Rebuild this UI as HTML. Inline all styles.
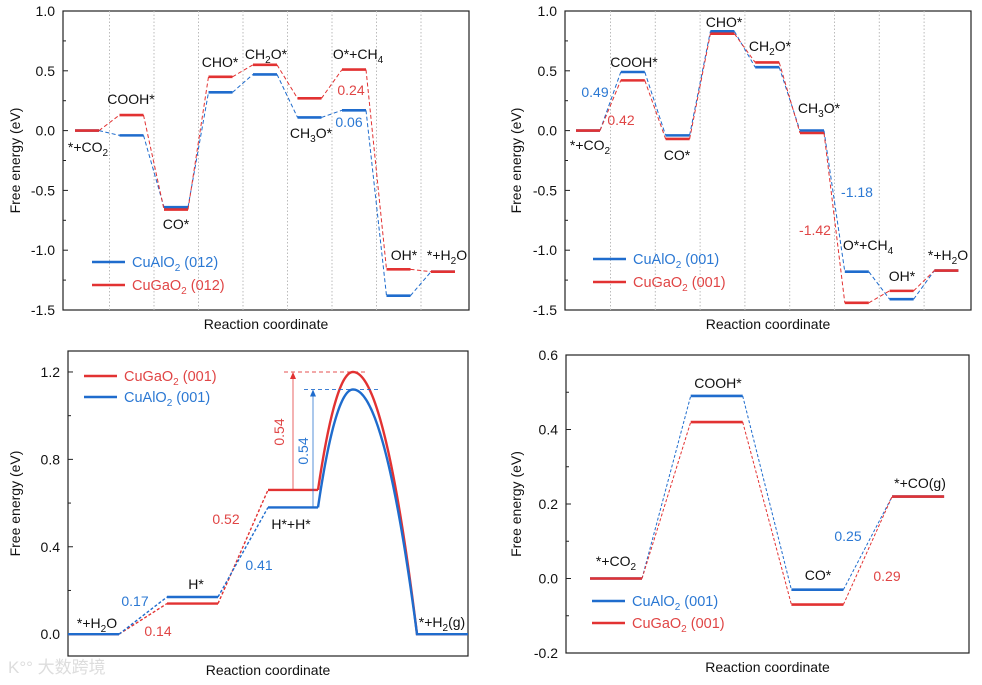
<!DOCTYPE html>
<html><head><meta charset="utf-8">
<style>
html,body{margin:0;padding:0;background:#fff;}
svg{display:block;font-family:"Liberation Sans",Arial,sans-serif;}
</style></head>
<body>
<svg id="fig" width="982" height="685" viewBox="0 0 982 685" xmlns="http://www.w3.org/2000/svg"></svg>
<script>
// ---------- Panel A (012) ----------
const stepsA = ["*+CO2","COOH*","CO*","CHO*","CH2O*","CH3O*","O*+CH4","OH*","*+H2O"];
const blueA = [0, -0.04, -0.64, 0.32, 0.47, 0.11, 0.17, -1.38, -1.18];
const redA  = [0, 0.13, -0.66, 0.45, 0.55, 0.27, 0.51, -1.16, -1.18];
const ticksA = [1.0, 0.5, 0.0, -0.5, -1.0, -1.5];
const tickLabelsA = ["1.0","0.5","0.0","-0.5","-1.0","-1.5"];
// ---------- Panel B (001) ----------
const stepsB = ["*+CO2","COOH*","CO*","CHO*","CH2O*","CH3O*","O*+CH4","OH*","*+H2O"];
const blueB = [0, 0.49, -0.04, 0.83, 0.53, 0.00, -1.18, -1.41, -1.17];
const redB  = [0, 0.42, -0.07, 0.81, 0.57, -0.02, -1.44, -1.34, -1.17];
const ticksB = [1.0, 0.5, 0.0, -0.5, -1.0, -1.5];
const tickLabelsB = ["1.0","0.5","0.0","-0.5","-1.0","-1.5"];
// ---------- Panel C (HER) ----------
const stepsC = ["*+H2O","H*","H*+H*","TS","*+H2(g)"];
const blueC = [0, 0.17, 0.58, 1.12, 0];
const redC  = [0, 0.14, 0.66, 1.20, 0];
const ticksC = [0.0, 0.4, 0.8, 1.2];
const tickLabelsC = ["0.0","0.4","0.8","1.2"];
// ---------- Panel D (CO2 -> CO) ----------
const stepsD = ["*+CO2","COOH*","CO*","*+CO(g)"];
const blueD = [0, 0.49, -0.03, 0.22];
const redD  = [0, 0.42, -0.07, 0.22];
const ticksD = [0.6, 0.4, 0.2, 0.0, -0.2];
const tickLabelsD = ["0.6","0.4","0.2","0.0","-0.2"];

const NS = "http://www.w3.org/2000/svg";
const svg = document.getElementById('fig');
const BLUE = "#1f6ccd", RED = "#e23232", BLUET = "#2b78d3", REDT = "#e04545";

function mk(tag, attrs, parent) {
  const e = document.createElementNS(NS, tag);
  for (const k in attrs) e.setAttribute(k, attrs[k]);
  (parent || svg).appendChild(e);
  return e;
}
function txt(x, y, html, opts, name) {
  const t = mk('text', {x: x, y: y, 'font-size': (opts && opts.size) || 14, fill: (opts && opts.fill) || '#111', 'text-anchor': (opts && opts.anchor) || 'middle'});
  if (opts && opts.rot) t.setAttribute('transform', 'rotate(' + opts.rot + ' ' + x + ' ' + y + ')');
  t.innerHTML = html;
  
  
  return t;
}
const sub = s => '<tspan baseline-shift="-4" font-size="10">' + s + '</tspan>';

function axes(box, vmin, vmax, ticks, labels, minorStep, ylabelX, xlabelY, prefix) {
  const ys = v => box.y1 - (v - vmin) / (vmax - vmin) * (box.y1 - box.y0);
  const frame = mk('rect', {x: box.x0, y: box.y0, width: box.x1 - box.x0, height: box.y1 - box.y0, fill: 'none', stroke: '#222', 'stroke-width': 1.2});
  
  
  ticks.forEach((v, i) => {
    const tk = mk('line', {x1: box.x0, x2: box.x0 + 5, y1: ys(v), y2: ys(v), stroke: '#222', 'stroke-width': 1});
    
    
    txt(box.x0 - 8, ys(v) + 5, labels[i], {anchor: 'end', size: 14}, prefix + '-y-tick-label');
  });
  for (let v = Math.min(...ticks); v < Math.max(...ticks); v += minorStep) {
    const m = v + minorStep / 2;
    const tk = mk('line', {x1: box.x0, x2: box.x0 + 3, y1: ys(m), y2: ys(m), stroke: '#222', 'stroke-width': 1});
    
    
  }
  txt(ylabelX, (box.y0 + box.y1) / 2, 'Free energy (eV)', {rot: -90, size: 14}, prefix + '-y-axis-title');
  txt((box.x0 + box.x1) / 2, xlabelY, 'Reaction coordinate', {size: 14}, prefix + '-x-axis-title');
  return ys;
}

function levels(ys, xs, hw, vals, color, prefix, series, dash) {
  for (let i = 0; i < vals.length; i++) {
    if (i > 0) {
      const c = mk('line', {x1: xs(i - 1) + hw, y1: ys(vals[i - 1]), x2: xs(i) - hw, y2: ys(vals[i]), stroke: color, 'stroke-width': 1, 'stroke-dasharray': dash || '4,2.5'});
      
      
    }
    const l = mk('line', {x1: xs(i) - hw, x2: xs(i) + hw, y1: ys(vals[i]), y2: ys(vals[i]), stroke: color, 'stroke-width': 2.6});
    
    
  }
}
function legendEntry(x, y, color, html, name) {
  const l = mk('line', {x1: x, x2: x + 33, y1: y, y2: y, stroke: color, 'stroke-width': 2.6});
  
  
  txt(x + 40, y + 5, html, {anchor: 'start', fill: color === BLUE ? BLUET : REDT, size: 14.5}, name);
}

// ===== Panel A =====
(function () {
  const box = {x0: 63, x1: 469, y0: 11, y1: 310};
  const ys = axes(box, -1.5, 1.0, ticksA, tickLabelsA, 0.5, 20, 329, 'panel-a');
  const xs = i => 87 + 44.5 * i;
  for (let i = 0; i < stepsA.length - 1; i++) {
    const s = mk('line', {x1: xs(i) + 22.5, x2: xs(i) + 22.5, y1: box.y0, y2: box.y1, stroke: '#bbb', 'stroke-width': 1, 'stroke-dasharray': '1.5,2'});
    
    
  }
  levels(ys, xs, 12, blueA, BLUE, 'panel-a', 'cualo2');
  levels(ys, xs, 12, redA, RED, 'panel-a', 'cugao2');
  txt(88, 152, '*+CO' + sub('2'), {}, 'label-co2');
  txt(131, 104, 'COOH*', {}, 'label-cooh');
  txt(176, 229, 'CO*', {}, 'label-co');
  txt(220, 67, 'CHO*', {}, 'label-cho');
  txt(266, 59, 'CH' + sub('2') + 'O*', {}, 'label-ch2o');
  txt(358, 59, 'O*+CH' + sub('4'), {}, 'label-o-ch4');
  txt(351, 95, '0.24', {fill: REDT}, 'label-barrier-red');
  txt(349, 127, '0.06', {fill: BLUET}, 'label-barrier-blue');
  txt(311, 138, 'CH' + sub('3') + 'O*', {}, 'label-ch3o');
  txt(404, 260, 'OH*', {}, 'label-oh');
  txt(447, 260, '*+H' + sub('2') + 'O', {}, 'label-h2o');
  legendEntry(92, 262, BLUE, 'CuAlO' + sub('2') + ' (012)', 'legend-cualo2');
  legendEntry(92, 285, RED, 'CuGaO' + sub('2') + ' (012)', 'legend-cugao2');
})();

// ===== Panel B =====
(function () {
  const box = {x0: 565, x1: 971, y0: 11, y1: 310};
  const ys = axes(box, -1.5, 1.0, ticksB, tickLabelsB, 0.5, 521, 329, 'panel-b');
  const xs = i => 588 + 44.8 * i;
  for (let i = 0; i < stepsB.length - 1; i++) {
    const s = mk('line', {x1: xs(i) + 22.5, x2: xs(i) + 22.5, y1: box.y0, y2: box.y1, stroke: '#bbb', 'stroke-width': 1, 'stroke-dasharray': '1.5,2'});
    
    
  }
  levels(ys, xs, 12, blueB, BLUE, 'panel-b', 'cualo2');
  levels(ys, xs, 12, redB, RED, 'panel-b', 'cugao2');
  txt(590, 150, '*+CO' + sub('2'), {}, 'label-co2');
  txt(595, 97, '0.49', {fill: BLUET}, 'label-barrier-blue');
  txt(621, 125, '0.42', {fill: REDT}, 'label-barrier-red');
  txt(634, 67, 'COOH*', {}, 'label-cooh');
  txt(677, 160, 'CO*', {}, 'label-co');
  txt(724, 27, 'CHO*', {}, 'label-cho');
  txt(770, 51, 'CH' + sub('2') + 'O*', {}, 'label-ch2o');
  txt(819, 113, 'CH' + sub('3') + 'O*', {}, 'label-ch3o');
  txt(857, 197, '-1.18', {fill: BLUET}, 'label-step-blue');
  txt(815, 235, '-1.42', {fill: REDT}, 'label-step-red');
  txt(868, 250, 'O*+CH' + sub('4'), {}, 'label-o-ch4');
  txt(902, 281, 'OH*', {}, 'label-oh');
  txt(948, 260, '*+H' + sub('2') + 'O', {}, 'label-h2o');
  legendEntry(593, 259, BLUE, 'CuAlO' + sub('2') + ' (001)', 'legend-cualo2');
  legendEntry(593, 282, RED, 'CuGaO' + sub('2') + ' (001)', 'legend-cugao2');
})();

// ===== Panel C =====
(function () {
  const box = {x0: 68, x1: 468, y0: 351, y1: 656};
  const ys = axes(box, -0.1, 1.296, ticksC, tickLabelsC, 0.4, 20, 675, 'panel-c');
  const segs = [[68, 119], [167, 218], [268, 318], [353, 353], [417, 468]];
  function draw(vals, color, series) {
    for (let i = 0; i < 2; i++) {
      const c = mk('line', {x1: segs[i][1], y1: ys(vals[i]), x2: segs[i + 1][0], y2: ys(vals[i + 1]), stroke: color, 'stroke-width': 1.4, 'stroke-dasharray': '3,2'});
      
      
    }
    let d = '';
    [0, 1, 2].forEach(i => { d += 'M' + segs[i][0] + ' ' + ys(vals[i]) + 'H' + segs[i][1]; });
    const base = vals[2], peak = vals[3], fin = vals[4];
    d += 'M' + segs[2][1] + ' ' + ys(base);
    for (let x = segs[2][1]; x <= segs[3][0]; x += 1) {
      const t = (x - segs[3][0]) / (segs[3][0] - segs[2][1]);
      d += 'L' + x + ' ' + ys(base + (peak - base) * (1 - t * t));
    }
    for (let x = segs[3][0]; x <= segs[4][0]; x += 1) {
      const t = (x - segs[3][0]) / (segs[4][0] - segs[3][0]);
      d += 'L' + x + ' ' + ys(fin + (peak - fin) * (1 - t * t));
    }
    d += 'H' + segs[4][1];
    const p = mk('path', {d: d, fill: 'none', stroke: color, 'stroke-width': 2.4});
    
    
  }
  draw(redC, RED, 'cugao2');
  draw(blueC, BLUE, 'cualo2');
  function barrier(vals, color, ax, hx0, hx1, name) {
    const h = mk('line', {x1: hx0, x2: hx1, y1: ys(vals[3]), y2: ys(vals[3]), stroke: color, 'stroke-width': 1, 'stroke-dasharray': '4,3', opacity: 0.85});
    
    
    const a = mk('line', {x1: ax, x2: ax, y1: ys(vals[2]), y2: ys(vals[3]) + 6, stroke: color, 'stroke-width': 1, opacity: 0.75});
    
    
    const hd = mk('path', {d: 'M' + (ax - 3) + ' ' + (ys(vals[3]) + 7) + 'L' + ax + ' ' + ys(vals[3]) + 'L' + (ax + 3) + ' ' + (ys(vals[3]) + 7) + 'Z', fill: color});
    
    
  }
  barrier(redC, RED, 293, 284, 366, 'panel-c-red-barrier');
  barrier(blueC, BLUE, 313, 304, 378, 'panel-c-blue-barrier');
  txt(284, 432, '0.54', {rot: -90, fill: REDT}, 'label-barrier-red');
  txt(308, 451, '0.54', {rot: -90, fill: BLUET}, 'label-barrier-blue');
  txt(97, 628, '*+H' + sub('2') + 'O', {}, 'label-h2o');
  txt(158, 636, '0.14', {fill: REDT}, 'label-step1-red');
  txt(135, 606, '0.17', {fill: BLUET}, 'label-step1-blue');
  txt(196, 589, 'H*', {}, 'label-h');
  txt(259, 570, '0.41', {fill: BLUET}, 'label-step2-blue');
  txt(226, 524, '0.52', {fill: REDT}, 'label-step2-red');
  txt(291, 529, 'H*+H*', {}, 'label-hh');
  txt(442, 627, '*+H' + sub('2') + '(g)', {}, 'label-h2g');
  legendEntry(84, 376, RED, 'CuGaO' + sub('2') + ' (001)', 'legend-cugao2');
  legendEntry(84, 397, BLUE, 'CuAlO' + sub('2') + ' (001)', 'legend-cualo2');
  const wm = txt(8, 673, 'K°° 大数跨境', {anchor: 'start', size: 17, fill: '#ddd'}, 'watermark');
  wm.setAttribute('font-family', '"Liberation Sans","Noto Sans CJK SC",sans-serif');
})();

// ===== Panel D =====
(function () {
  const box = {x0: 566, x1: 969, y0: 355, y1: 653};
  const ys = axes(box, -0.2, 0.6, ticksD, tickLabelsD, 0.2, 521, 672, 'panel-d');
  const xs = i => 616 + 100.7 * i;
  levels(ys, xs, 26, blueD, BLUE, 'panel-d', 'cualo2', '3,2');
  levels(ys, xs, 26, redD, RED, 'panel-d', 'cugao2', '3,2');
  txt(616, 566, '*+CO' + sub('2'), {}, 'label-co2');
  txt(718, 388, 'COOH*', {}, 'label-cooh');
  txt(818, 580, 'CO*', {}, 'label-co');
  txt(920, 488, '*+CO(g)', {}, 'label-cog');
  txt(848, 541, '0.25', {fill: BLUET}, 'label-step-blue');
  txt(887, 581, '0.29', {fill: REDT}, 'label-step-red');
  legendEntry(592, 601, BLUE, 'CuAlO' + sub('2') + ' (001)', 'legend-cualo2');
  legendEntry(592, 623, RED, 'CuGaO' + sub('2') + ' (001)', 'legend-cugao2');
})();
</script>
</body></html>
